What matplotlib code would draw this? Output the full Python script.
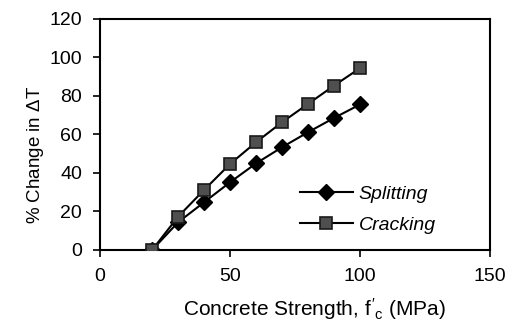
import matplotlib
matplotlib.use("Agg")
import matplotlib.pyplot as plt

plt.rcParams["font.family"] = ["Liberation Sans", "DejaVu Sans"]
plt.rcParams["mathtext.fontset"] = "custom"
plt.rcParams["mathtext.rm"] = "Liberation Sans"
plt.rcParams["mathtext.it"] = "Liberation Sans"

strength = [20, 30, 40, 50, 60, 70, 80, 90, 100]
splitting = [0, 14.4, 24.8, 35.2, 45.0, 53.4, 61.2, 68.6, 75.6]
cracking = [0, 17.3, 31.2, 44.7, 56.0, 66.4, 75.9, 85.4, 94.5]
x_ticks = [0, 50, 100, 150]
y_ticks = [0, 20, 40, 60, 80, 100, 120]

fig = plt.figure(figsize=(5.08, 3.32), dpi=100)
ax = fig.add_axes([0.197, 0.247, 0.768, 0.696])

ax.plot(strength, splitting, color="black", lw=1.5, marker="D", ms=8.5,
        mfc="black", mec="black", label="Splitting", zorder=3)
ax.plot(strength, cracking, color="black", lw=1.5, marker="s", ms=9,
        mfc="#4f4f4f", mec="#1a1a1a", mew=1.2, label="Cracking", zorder=3)

ax.set_xlim(0, 150)
ax.set_ylim(0, 120)
ax.set_xticks(x_ticks)
ax.set_yticks(y_ticks)
ax.tick_params(direction="out", length=5, width=1.2, labelsize=14, pad=8)
for s in ax.spines.values():
    s.set_linewidth(1.5)

ax.set_xlabel(r"Concrete Strength, $f'_c$ (MPa)", fontsize=15)
ax.xaxis.set_label_coords(0.549, -0.20)
ax.set_ylabel(r"% Change in $\Delta$T", fontsize=13.5)
ax.yaxis.set_label_coords(-0.138, 0.41)

leg = ax.legend(loc="center left", bbox_to_anchor=(0.513, 0.175), frameon=False,
                prop={"style": "italic", "size": 14}, handlelength=2.7,
                handletextpad=0.3, labelspacing=0.68, borderpad=0,
                borderaxespad=0)

fig.savefig("out.png", dpi=100)
